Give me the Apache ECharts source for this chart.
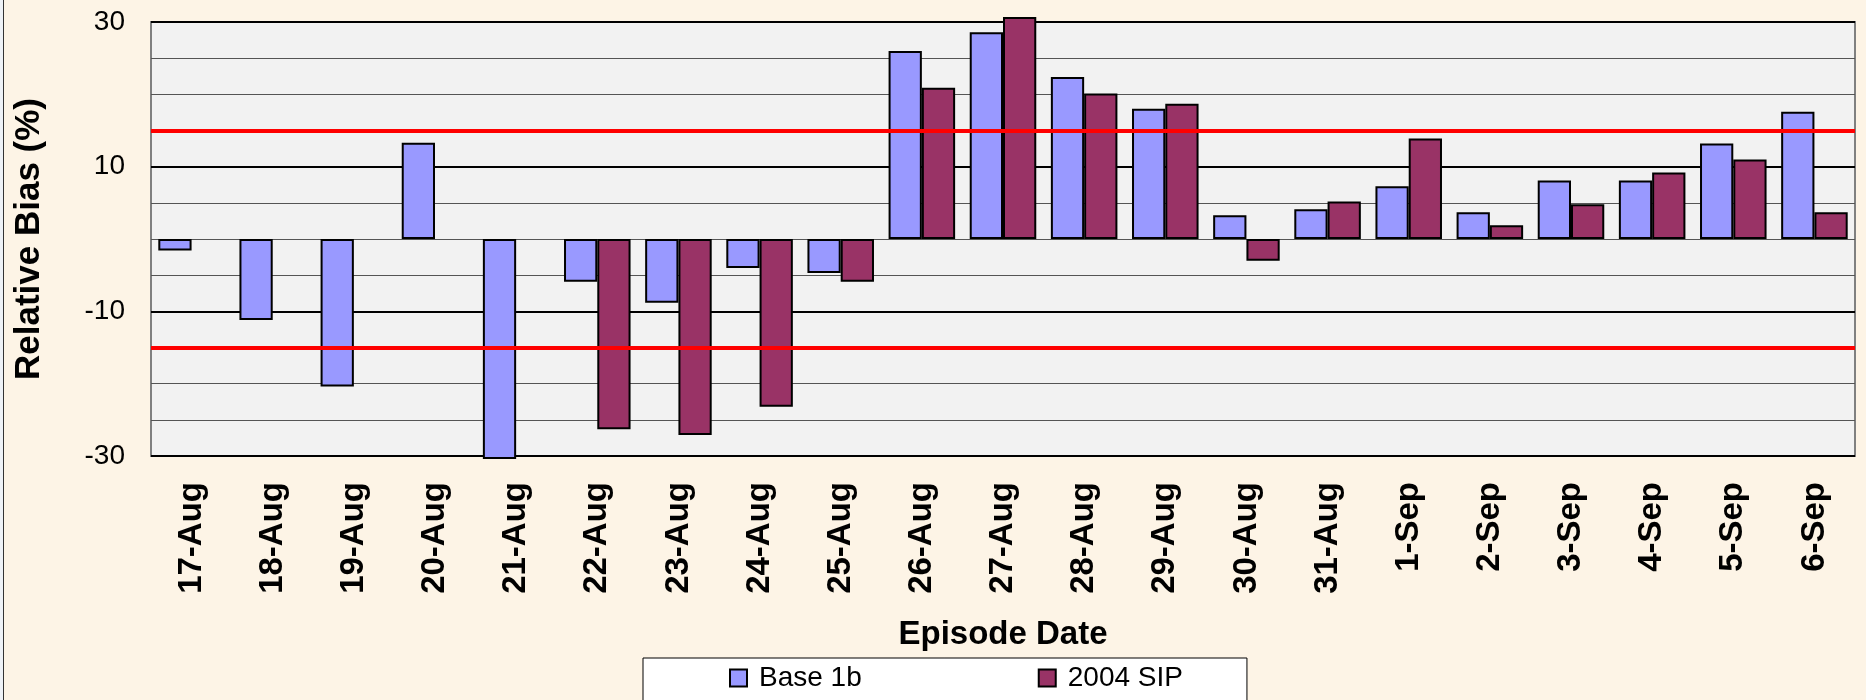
<!DOCTYPE html>
<html>
<head>
<meta charset="utf-8">
<script src="https://cdn.jsdelivr.net/npm/echarts@6/dist/echarts.min.js"></script>
<style>
  html, body { margin: 0; padding: 0; background: #FDF4E6; }
  #chart { width: 1866px; height: 700px; }
</style>
</head>
<body>
<div id="chart"></div>
<script>
// episode dates on the x axis
const dates = [
  "17-Aug", "18-Aug", "19-Aug", "20-Aug", "21-Aug", "22-Aug", "23-Aug",
  "24-Aug", "25-Aug", "26-Aug", "27-Aug", "28-Aug", "29-Aug", "30-Aug",
  "31-Aug", "1-Sep", "2-Sep", "3-Sep", "4-Sep", "5-Sep", "6-Sep"
];

// relative bias (%)
const base1b = [-1.6, -11.2, -20.4, 13.3, -30.4, -5.9, -8.8, -4.0, -4.7, 26.0,
  28.6, 22.4, 18.0, 3.3, 4.1, 7.3, 3.7, 8.1, 8.1, 13.2, 17.6];
const sip2004 = [null, null, null, null, null, -26.3, -27.1, -23.2, -5.9, 20.9,
  30.7, 20.1, 18.7, -3.0, 5.2, 13.9, 1.9, 4.8, 9.2, 11.0, 3.7];

// acceptance limits (red lines)
const limits = [15, -15];

const yTickLabels = [-30, -10, 10, 30];

const chart = echarts.init(document.getElementById("chart"), null, { renderer: "canvas" });

const barStyle = (color) => ({
  color: color,
  borderColor: "#000",
  borderWidth: 2
});

chart.setOption({
  backgroundColor: "#FDF4E6",
  animation: false,
  textStyle: { fontFamily: "Liberation Sans, Arial, sans-serif", color: "#000" },
  graphic: [
    { type: "rect", shape: { x: 0, y: 0, width: 3, height: 700 }, style: { fill: "#EEF2F7" }, silent: true },
    { type: "line", shape: { x1: 3.5, y1: 0, x2: 3.5, y2: 700 }, style: { stroke: "#333", lineWidth: 1 }, silent: true }
  ],
  grid: {
    left: 151,
    right: 11,
    top: 22,
    bottom: 244,
    show: true,
    backgroundColor: "#F2F2F2",
    borderColor: "#808080",
    borderWidth: 2
  },
  legend: {
    data: ["Base 1b", "2004 SIP"],
    left: 643,
    top: 658,
    orient: "horizontal",
    padding: [6, 64, 30, 86],
    itemGap: 176,
    itemWidth: 17,
    itemHeight: 17,
    backgroundColor: "#fff",
    borderColor: "#000",
    borderWidth: 1,
    borderRadius: 0,
    icon: "rect",
    textStyle: { fontSize: 28, fontFamily: "Liberation Sans, Arial, sans-serif", color: "#000", padding: [0, 0, 0, 7] }
  },
  xAxis: {
    type: "category",
    data: dates,
    axisLine: { show: false, onZero: false },
    axisTick: { show: false },
    axisLabel: {
      interval: 0,
      rotate: 90,
      margin: 26,
      fontSize: 33,
      fontWeight: "bold",
      color: "#000"
    },
    name: "Episode Date",
    nameLocation: "middle",
    nameGap: 162,
    nameTextStyle: { fontSize: 33, fontWeight: "bold", color: "#000" }
  },
  yAxis: [
    {
      type: "value",
      min: -30,
      max: 30,
      interval: 5,
      axisLine: { show: false },
      axisTick: { show: false },
      axisLabel: {
        fontSize: 28,
        margin: 26,
        color: "#000",
        formatter: (v) => (yTickLabels.includes(v) ? String(v) : "")
      },
      splitLine: { lineStyle: { color: "#555", width: 1 } },
      name: "Relative Bias (%)",
      nameLocation: "middle",
      nameRotate: 90,
      nameGap: 104,
      nameTextStyle: {
        fontFamily: "Liberation Sans Narrow, Arial Narrow, sans-serif",
        fontWeight: "bold",
        fontSize: 35,
        color: "#000"
      }
    },
    {
      type: "value",
      min: -30,
      max: 30,
      interval: 20,
      axisLine: { show: false },
      axisTick: { show: false },
      axisLabel: { show: false },
      splitLine: { lineStyle: { color: "#000", width: 2 } }
    }
  ],
  series: [
    {
      name: "Base 1b",
      type: "bar",
      data: base1b,
      yAxisIndex: 0,
      barGap: "0%",
      barCategoryGap: "18%",
      clip: false,
      itemStyle: barStyle("#9999FF"),
      markLine: {
        silent: true,
        symbol: ["none", "none"],
        label: { show: false },
        lineStyle: { color: "#FF0000", width: 4, type: "solid" },
        emphasis: { disabled: true },
        data: limits.map((v) => ({ yAxis: v }))
      }
    },
    {
      name: "2004 SIP",
      type: "bar",
      data: sip2004,
      yAxisIndex: 0,
      barGap: "0%",
      barCategoryGap: "18%",
      clip: false,
      itemStyle: barStyle("#993366")
    }
  ]
});
</script>
</body>
</html>
